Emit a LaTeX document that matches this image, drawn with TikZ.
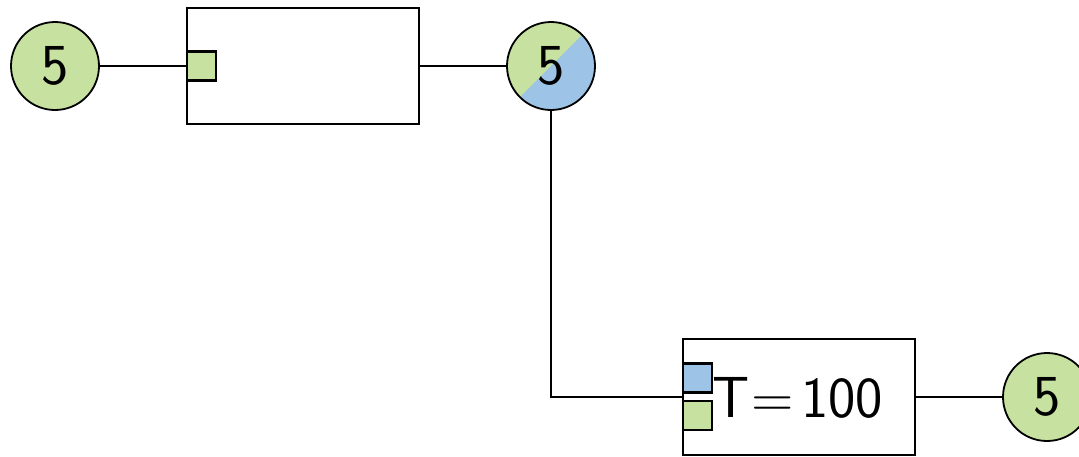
\documentclass[tikz,border=0pt]{standalone}
\usepackage{fontspec}
\begin{document}
\begin{tikzpicture}[x=1pt,y=-1pt,
  every node/.style={font=\sffamily\fontsize{58}{60}\selectfont, line width=1.8pt, inner sep=0pt},
  circ/.style={circle, draw, minimum size=88pt, fill=pgreen},
  blk/.style={rectangle, draw, minimum width=232pt, minimum height=116pt},
  port/.style={rectangle, draw, line width=2.2pt, minimum size=29pt},
  wire/.style={line width=1.8pt}]
\definecolor{pgreen}{RGB}{198,225,160}
\definecolor{pblue}{RGB}{157,195,230}
\useasboundingbox (0,0) rectangle (1079,456);
\node[circ] (c1) at (55,66) {5};
\node[blk] (b1) at (303,66) {};
\node[port, fill=pgreen] (p1) at (201.5,66) {};
\node[circ, path picture={\fill[pblue] (path picture bounding box.south west) -- (path picture bounding box.north east) -- (path picture bounding box.south east) -- cycle;}] (c2) at (551,66) {5};
\node[blk] (b2) at (799,397) {};
\node[port, fill=pblue] (p2) at (697.5,378) {};
\node[port, fill=pgreen] (p3) at (697.5,415.5) {};
\node[anchor=west] (t) at (712,398) {T\kern1pt=\kern8pt100};
\node[circ] (c3) at (1047,397) {5};
\draw[wire] (c1.east) -- (p1.west);
\draw[wire] (b1.east) -- (c2.west);
\draw[wire] (c2.south) |- (b2.west);
\draw[wire] (b2.east) -- (c3.west);
\end{tikzpicture}
\end{document}
